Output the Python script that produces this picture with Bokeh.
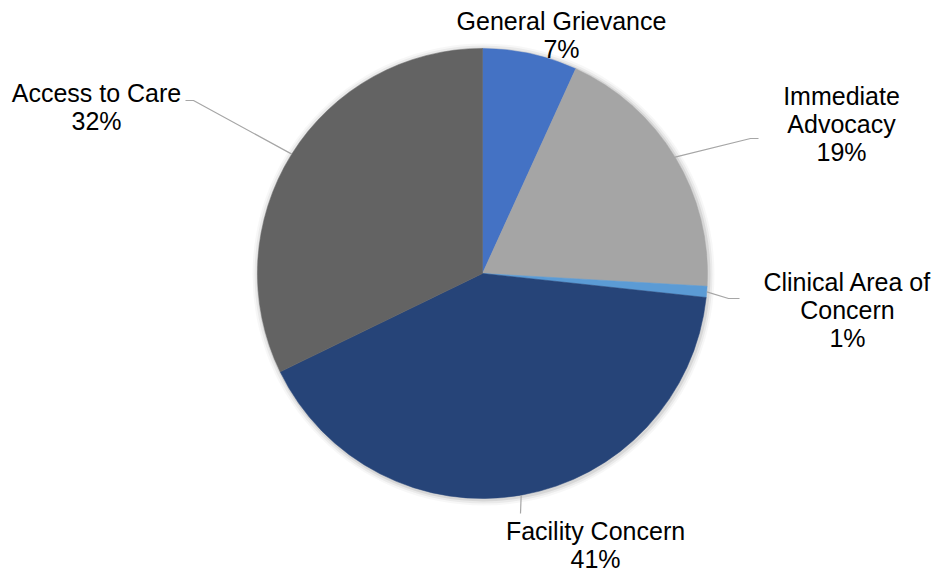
import math
from bokeh.plotting import figure
from bokeh.models import Range1d
from bokeh.core.properties import value
from bokeh.embed import file_html
from bokeh.resources import INLINE

# ---- data ----
categories = ["General Grievance", "Immediate Advocacy", "Clinical Area of Concern",
              "Facility Concern", "Access to Care"]
label_names = ["General Grievance", "Immediate\nAdvocacy", "Clinical Area of\nConcern",
               "Facility Concern", "Access to Care"]
shares = [6.8, 19.1, 0.8, 41.1, 32.2]
colors = ["#4472C4", "#A5A5A5", "#5B9BD5", "#264478", "#636363"]

# ---- layout (screen pixel coordinates) ----
W, H = 941, 572
CX, CY, R = 482, 273, 225
FONT = "Liberation Sans"
FS = 25
LINE_GAP = 28
# first-line center position of each label
label_pos = [(561, 20), (841, 95), (847, 281), (595, 530), (96, 92)]
# leader-line elbow points (None = no leader)
leader_elbows = [None, [(750, 138), (758, 138)], [(728, 298), (739, 298)],
                 [(520, 513)], [(193, 100), (185, 100)]]

p = figure(width=W, height=H, output_backend="svg", toolbar_location=None,
           x_range=Range1d(0, W), y_range=Range1d(-H, 0),
           min_border=0, outline_line_color=None, match_aspect=False)
p.axis.visible = False
p.grid.visible = False
p.background_fill_color = "white"
p.border_fill_color = "white"

# soft shadow
for dr, a in [(6, 0.03), (4, 0.05), (2, 0.08)]:
    p.circle(x=[CX + 1], y=[-(CY + 1)], radius=R + dr, fill_color="#000000",
             fill_alpha=a, line_color=None)

total = sum(shares)
cum = 0.0
mids = []
for s, c in zip(shares, colors):
    a0 = cum / total
    a1 = (cum + s) / total
    cum += s
    # clockwise from 12 o'clock
    start = math.pi / 2 - a1 * 2 * math.pi
    end = math.pi / 2 - a0 * 2 * math.pi
    p.wedge(x=[CX], y=[-CY], radius=R, start_angle=start, end_angle=end,
            direction="anticlock", fill_color=c, line_color=c, line_width=0.5)
    mids.append((a0 + a1) / 2)

for i, (name, s) in enumerate(zip(label_names, shares)):
    lines = name.split("\n") + [f"{round(s)}%"]
    lx, ly = label_pos[i]
    for j, t in enumerate(lines):
        p.text(x=[lx], y=[-(ly + j * LINE_GAP)], text=[t], text_align="center",
               text_baseline="middle", text_font=value(FONT),
               text_font_size=f"{FS}px", text_color="#000000")
    if leader_elbows[i] is not None:
        ang = mids[i] * 2 * math.pi
        sx = CX + R * math.sin(ang)
        sy = CY - R * math.cos(ang)
        pts = [(sx, sy)] + leader_elbows[i]
        p.line(x=[q[0] for q in pts], y=[-q[1] for q in pts],
               line_color="#A6A6A6", line_width=1.2)

open("out.html", "w").write(file_html(p, INLINE))
